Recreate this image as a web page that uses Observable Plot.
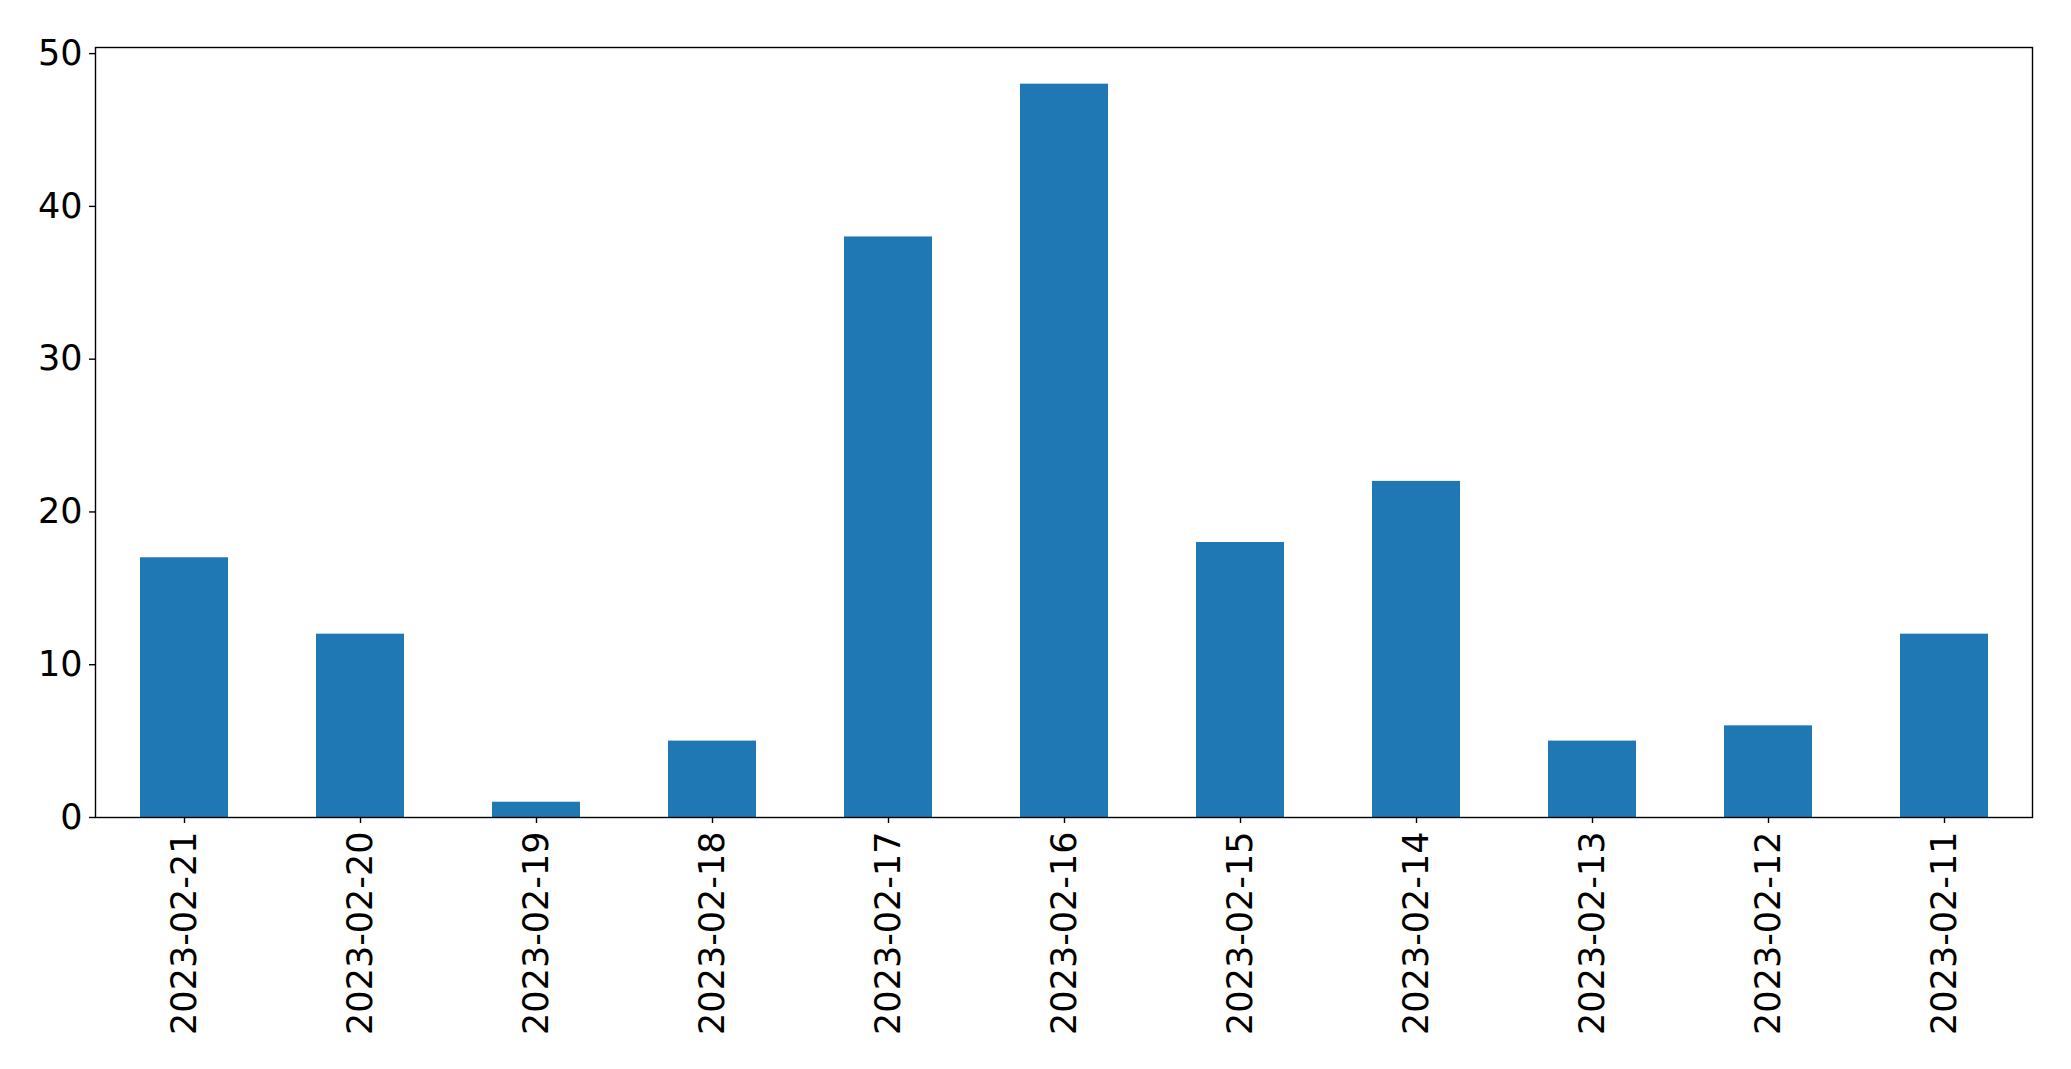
<!DOCTYPE html>
<html>
<head>
<meta charset="utf-8">
<script src="https://cdn.jsdelivr.net/npm/d3@7"></script>
<script src="https://cdn.jsdelivr.net/npm/@observablehq/plot@0.6"></script>
<style>
  html, body { margin: 0; padding: 0; background: #fff; }
  #chart svg { display: block; }
</style>
</head>
<body>
<div id="chart"></div>
<script>
const dates = ["2023-02-21","2023-02-20","2023-02-19","2023-02-18","2023-02-17","2023-02-16","2023-02-15","2023-02-14","2023-02-13","2023-02-12","2023-02-11"];
const counts = [17, 12, 1, 5, 38, 48, 18, 22, 5, 6, 12];
const yTicks = [0, 10, 20, 30, 40, 50];

const data = dates.map((d, i) => ({date: d, count: counts[i]}));

const chart = Plot.plot({
  width: 2071,
  height: 1069,
  marginLeft: 95,
  marginRight: 39,
  marginTop: 47,
  marginBottom: 252,
  style: {fontFamily: "'DejaVu Sans', sans-serif", fontSize: "35px", color: "#000", background: "#fff"},
  x: {domain: dates, paddingInner: 0.5, paddingOuter: 0.25, label: null},
  y: {domain: [0, 50.4], label: null},
  marks: [
    Plot.barY(data, {x: "date", y: "count", fill: "#1f77b4"}),
    Plot.frame({stroke: "#000", strokeWidth: 1.4}),
    Plot.axisY({ticks: yTicks, tickSize: 6, tickPadding: 7, fontSize: 35, label: null, strokeWidth: 1.4}),
    Plot.axisX({tickSize: 6, tickPadding: 8, tickRotate: -90, fontSize: 35, label: null, strokeWidth: 1.4})
  ]
});
document.getElementById("chart").appendChild(chart);
</script>
</body>
</html>
